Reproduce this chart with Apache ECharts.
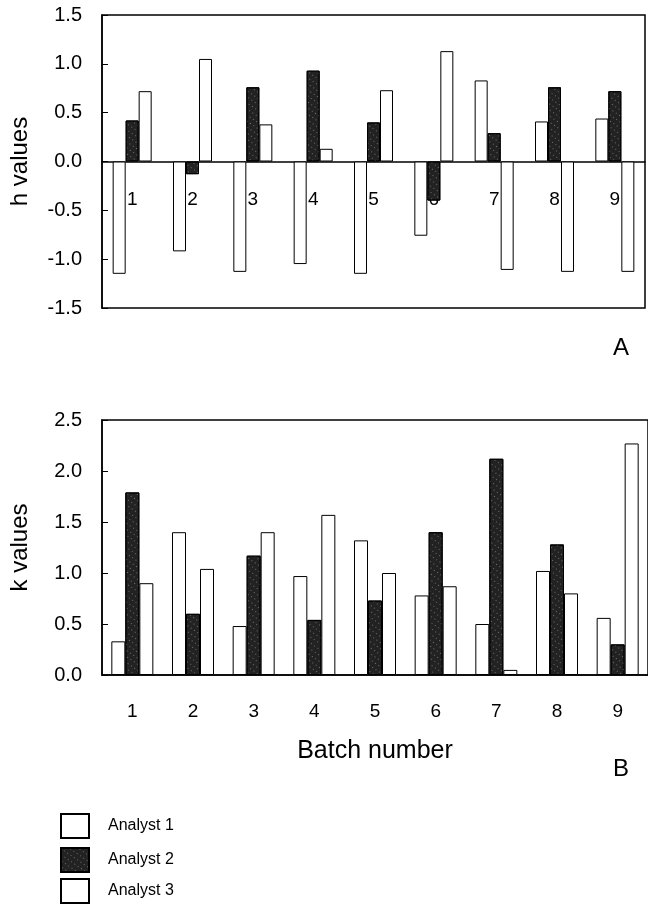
<!DOCTYPE html>
<html>
<head>
<meta charset="utf-8">
<script src="https://cdn.jsdelivr.net/npm/echarts@6/dist/echarts.min.js"></script>
<style>
  html, body { margin: 0; padding: 0; background: #fff; }
  #main { width: 648px; height: 904px; }
</style>
</head>
<body>
<div id="main"></div>
<script>
// batch numbers (x categories)
const batches = ['1', '2', '3', '4', '5', '6', '7', '8', '9'];
const analysts = ['Analyst 1', 'Analyst 2', 'Analyst 3'];

// panel A: h values
const hAnalyst1 = [-1.15, -0.92, -1.13, -1.05, -1.15, -0.76, 0.83, 0.41, 0.44];
const hAnalyst2 = [0.42, -0.13, 0.76, 0.93, 0.40, -0.40, 0.29, 0.76, 0.72];
const hAnalyst3 = [0.72, 1.05, 0.38, 0.13, 0.73, 1.13, -1.11, -1.13, -1.13];

// panel B: k values
const kAnalyst1 = [0.33, 1.40, 0.48, 0.97, 1.32, 0.78, 0.50, 1.02, 0.56];
const kAnalyst2 = [1.79, 0.60, 1.17, 0.54, 0.73, 1.40, 2.12, 1.28, 0.30];
const kAnalyst3 = [0.90, 1.04, 1.40, 1.57, 1.00, 0.87, 0.05, 0.80, 2.27];

const font = 'Liberation Sans, Arial, sans-serif';

const whiteBar = { color: '#fff', borderColor: '#000', borderWidth: 1 };
const darkBar = {
  color: '#222',
  borderColor: '#000',
  borderWidth: 1,
  decal: {
    symbol: 'rect',
    symbolSize: 1,
    dashArrayX: [1, 3],
    dashArrayY: [1, 4],
    rotation: 0.6,
    color: 'rgba(255,255,255,0.35)'
  }
};

const chart = echarts.init(document.getElementById('main'));

function yAxisCommon(name, min, max) {
  return {
    type: 'value',
    min: min,
    max: max,
    interval: 0.5,
    name: name,
    nameLocation: 'middle',
    nameGap: 70,
    nameTextStyle: { fontSize: 24, color: '#000', fontFamily: font },
    axisLine: { show: true, lineStyle: { color: '#000', width: 1.5 } },
    axisTick: { show: true, inside: true, length: 6, lineStyle: { color: '#000' } },
    axisLabel: {
      fontSize: 20, color: '#000', fontFamily: font, margin: 20,
      formatter: v => v.toFixed(1)
    },
    splitLine: { show: false }
  };
}

// one legend per row, stacked at the bottom left
const legendTops = [813, 847, 878];
const legends = analysts.map((a, i) => ({
  data: [a],
  left: 60,
  top: legendTops[i],
  padding: 0,
  icon: 'rect',
  itemWidth: 28,
  itemHeight: 24,
  textStyle: { fontSize: 16, color: '#000', fontFamily: font, padding: [0, 0, 0, 14] }
}));

const option = {
  animation: false,
  title: [
    { text: 'A', left: 608, top: 331, textStyle: { fontSize: 24, fontWeight: 'normal', color: '#000', fontFamily: font } },
    { text: 'B', left: 608, top: 752, textStyle: { fontSize: 24, fontWeight: 'normal', color: '#000', fontFamily: font } }
  ],
  legend: legends,
  grid: [
    { left: 100, top: 15, width: 545, height: 293, show: true, borderColor: '#000', borderWidth: 1.5 },
    { left: 98, top: 420, width: 550, height: 255, show: true, borderColor: '#000', borderWidth: 1.5 }
  ],
  xAxis: [
    {
      type: 'category', gridIndex: 0, data: batches,
      axisLine: { onZero: true, lineStyle: { color: '#000', width: 1.5 } },
      axisTick: { length: 6, lineStyle: { color: '#000', width: 1.5 } },
      // labels sit just under the zero line, inside the frame
      axisLabel: { fontSize: 19, color: '#000', fontFamily: font, margin: -118 }
    },
    {
      type: 'category', gridIndex: 1, data: batches,
      name: 'Batch number', nameLocation: 'middle', nameGap: 64,
      nameTextStyle: { fontSize: 25, color: '#000', fontFamily: font },
      axisLine: { lineStyle: { color: '#000', width: 1.5 } },
      axisTick: { inside: true, length: 7, lineStyle: { color: '#000', width: 1.5 } },
      axisLabel: { fontSize: 19, color: '#000', fontFamily: font, margin: 27 }
    }
  ],
  yAxis: [
    Object.assign(yAxisCommon('h values', -1.5, 1.5), { gridIndex: 0 }),
    Object.assign(yAxisCommon('k values', 0, 2.5), { gridIndex: 1 })
  ],
  series: [
    { name: analysts[0], type: 'bar', xAxisIndex: 0, yAxisIndex: 0, data: hAnalyst1, barWidth: 13, barGap: '0%', itemStyle: whiteBar },
    { name: analysts[1], type: 'bar', xAxisIndex: 0, yAxisIndex: 0, data: hAnalyst2, barWidth: 13, barGap: '0%', itemStyle: darkBar },
    { name: analysts[2], type: 'bar', xAxisIndex: 0, yAxisIndex: 0, data: hAnalyst3, barWidth: 13, barGap: '0%', itemStyle: whiteBar },
    { name: analysts[0], type: 'bar', xAxisIndex: 1, yAxisIndex: 1, data: kAnalyst1, barWidth: 14, barGap: '0%', itemStyle: whiteBar },
    { name: analysts[1], type: 'bar', xAxisIndex: 1, yAxisIndex: 1, data: kAnalyst2, barWidth: 14, barGap: '0%', itemStyle: darkBar },
    { name: analysts[2], type: 'bar', xAxisIndex: 1, yAxisIndex: 1, data: kAnalyst3, barWidth: 14, barGap: '0%', itemStyle: whiteBar }
  ]
};

chart.setOption(option);
</script>
</body>
</html>
